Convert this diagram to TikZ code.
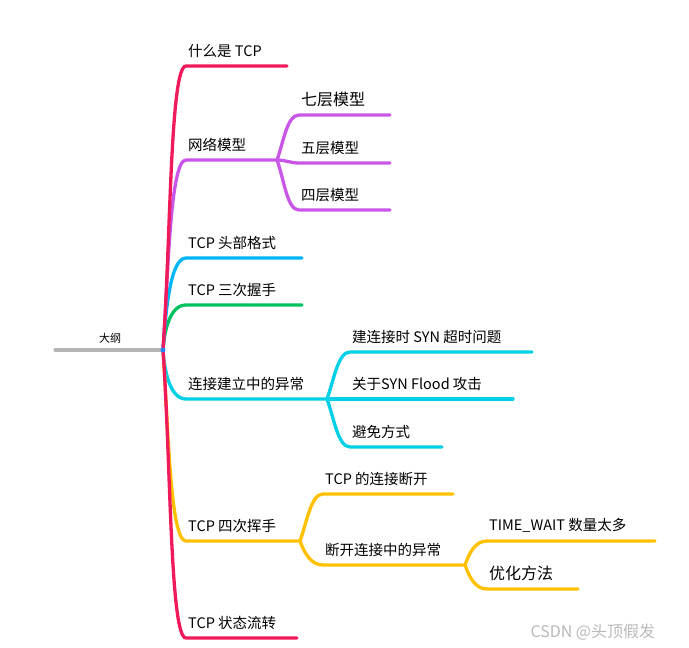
\documentclass[tikz,border=0pt]{standalone}
\usepackage{fontspec}
\setmainfont{Noto Sans CJK SC}
\definecolor{tcpred}{HTML}{F0195A}
\definecolor{netpurple}{HTML}{C956E8}
\definecolor{headblue}{HTML}{00B5F5}
\definecolor{shakegreen}{HTML}{00C060}
\definecolor{linkcyan}{HTML}{00D0E5}
\definecolor{waveorange}{HTML}{FFC000}
\definecolor{rootgray}{HTML}{B4B4B4}
\definecolor{hubblue}{HTML}{2A7FFF}
\tikzset{
  branch/.style={draw=#1, line width=3.3pt, line cap=round},
  topic/.style={
    anchor=south west,
    inner xsep=2pt,
    inner ysep=8pt,
    font=\fontsize{14.5}{16}\selectfont,
  },
  big topic/.style={topic, font=\fontsize{16}{18}\selectfont},
  rise/.style={out=86, in=180, in distance=16pt},
  fall/.style={out=-86, in=180, in distance=16pt},
  fork up/.style={out=70, in=180, in distance=12pt},
  fork down/.style={out=-70, in=180, in distance=12pt},
  fork flat/.style={out=0, in=180},
}

\begin{document}
\begin{tikzpicture}[x=1pt, y=1pt]
        \useasboundingbox (0,0) rectangle (689,-648);

        \coordinate (hub) at (163,-350);
        \coordinate (outline-start) at (55,-350);
        \node [anchor=south, inner ysep=6pt, font=\fontsize{11}{13}\selectfont] (outline) at (110,-350) {大纲};

        \node [topic] (whatis) at (186,-66) {什么是 TCP};
        \node [topic] (netmodel) at (186,-160) {网络模型};
        \node [big topic] (seven) at (299,-115) {七层模型};
        \node [topic] (five) at (299,-163) {五层模型};
        \node [topic] (four) at (299,-210) {四层模型};
        \node [topic] (header) at (186,-258) {TCP 头部格式};
        \node [topic] (handshake) at (186,-305) {TCP 三次握手};
        \node [topic] (connexc) at (186,-399) {连接建立中的异常};
        \node [topic] (synto) at (350,-352) {建连接时 SYN 超时问题};
        \node [topic] (flood) at (350,-399) {关于SYN Flood 攻击};
        \node [topic] (avoid) at (350,-447) {避免方式};
        \node [topic] (wave) at (186,-541) {TCP 四次挥手};
        \node [topic] (close) at (323,-494) {TCP 的连接断开};
        \node [topic] (disexc) at (323,-565) {断开连接中的异常};
        \node [topic] (twait) at (487,-541) {TIME\_WAIT 数量太多};
        \node [big topic] (optim) at (487,-589) {优化方法};
        \node [topic] (state) at (186,-638) {TCP 状态流转};

        \coordinate (whatis-end) at (287,-66);
        \coordinate (netmodel-fork) at (277,-160);
        \coordinate (seven-end) at (390,-115);
        \coordinate (five-end) at (390,-163);
        \coordinate (four-end) at (390,-210);
        \coordinate (header-end) at (302,-258);
        \coordinate (handshake-end) at (302,-305);
        \coordinate (connexc-fork) at (327,-399);
        \coordinate (synto-end) at (532,-352);
        \coordinate (flood-end) at (513,-399);
        \coordinate (avoid-end) at (442,-447);
        \coordinate (wave-fork) at (300,-541);
        \coordinate (close-end) at (453,-494);
        \coordinate (disexc-fork) at (465,-565);
        \coordinate (twait-end) at (655,-541);
        \coordinate (optim-end) at (578,-589);
        \coordinate (state-end) at (297,-638);

        \draw [branch=rootgray] (outline-start) -- (hub);

        \draw [branch=shakegreen] (hub) to[rise] (handshake.south west) -- (handshake-end);
        \draw [branch=headblue] (hub) to[rise] (header.south west) -- (header-end);
        \draw [branch=netpurple] (hub) to[rise] (netmodel.south west) -- (netmodel-fork);
        \draw [branch=tcpred] (hub) to[rise] (whatis.south west) -- (whatis-end);
        \draw [branch=netpurple] (netmodel-fork) to[fork up] (seven.south west) -- (seven-end);
        \draw [branch=netpurple] (netmodel-fork) to[fork flat] (five.south west) -- (five-end);
        \draw [branch=netpurple] (netmodel-fork) to[fork down] (four.south west) -- (four-end);

        \draw [branch=linkcyan] (hub) to[fall] (connexc.south west) -- (connexc-fork);
        \draw [branch=linkcyan] (connexc-fork) to[fork up] (synto.south west) -- (synto-end);
        \draw [branch=linkcyan] (connexc-fork) to[fork flat] (flood.south west) -- (flood-end);
        \draw [branch=linkcyan] (connexc-fork) to[fork down] (avoid.south west) -- (avoid-end);

        \draw [branch=waveorange] (hub) to[fall] (wave.south west) -- (wave-fork);
        \draw [branch=waveorange] (wave-fork) to[fork up] (close.south west) -- (close-end);
        \draw [branch=waveorange] (wave-fork) to[fork down] (disexc.south west) -- (disexc-fork);
        \draw [branch=waveorange] (disexc-fork) to[fork up] (twait.south west) -- (twait-end);
        \draw [branch=waveorange] (disexc-fork) to[fork down] (optim.south west) -- (optim-end);
        \draw [branch=tcpred] (hub) to[fall] (state.south west) -- (state-end);

        \node [circle, fill=hubblue, inner sep=0pt, minimum size=5pt] (hubdot) at (hub) {};

        \node [anchor=base west, text=gray!55, font=\fontsize{16}{18}\selectfont] (mark) at (527,-637) {CSDN @头顶假发};
      \end{tikzpicture}
\end{document}
